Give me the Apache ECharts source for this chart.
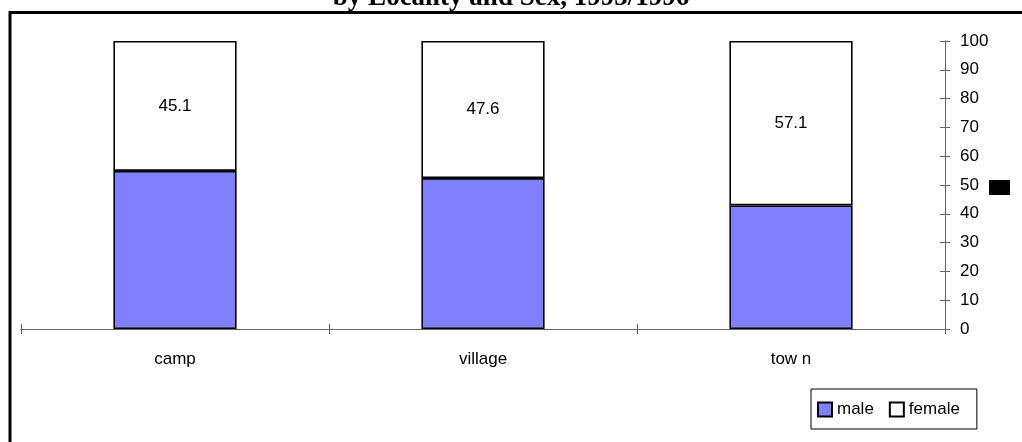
<!DOCTYPE html>
<html>
<head>
<meta charset="utf-8">
<script src="https://cdn.jsdelivr.net/npm/echarts@6/dist/echarts.min.js"></script>
<style>html,body{margin:0;padding:0;background:#fff;}#c{width:1022px;height:442px;}</style>
</head>
<body>
<div id="c"></div>
<script>
const titleText = 'by Locality and Sex, 1995/1996';
const categories = ['camp', 'village', 'tow n'];
const maleValues = [54.9, 52.4, 42.9];
const femaleValues = [45.1, 47.6, 57.1];
const seriesNames = ['male', 'female'];

const chart = echarts.init(document.getElementById('c'), null, {renderer: 'canvas'});
const axisColor = '#666666';
const font = 'Liberation Sans, Arial, sans-serif';
const catAxis = (inside, show) => ({
  type: 'category', data: categories, position: 'bottom', boundaryGap: true,
  axisLine: {show: true, lineStyle: {color: axisColor, width: 1}},
  axisTick: {show: true, inside: inside, length: 5, alignWithLabel: false, lineStyle: {color: axisColor}},
  axisLabel: {show: show, color: '#000', fontFamily: font, fontSize: 17, margin: 22},
  splitLine: {show: false}
});
const valAxis = (inside, show) => ({
  type: 'value', position: 'right', min: 0, max: 100, interval: 10,
  axisLine: {show: true, lineStyle: {color: axisColor, width: 1}},
  axisTick: {show: true, inside: inside, length: 5, lineStyle: {color: axisColor}},
  axisLabel: {show: show, color: '#000', fontFamily: font, fontSize: 17, margin: 15},
  splitLine: {show: false}
});
chart.setOption({
  animation: false,
  backgroundColor: '#fff',
  title: {
    text: titleText, left: 'center', top: -20,
    textStyle: {fontFamily: 'Liberation Serif, Times New Roman, serif', fontWeight: 'bold', fontSize: 27, color: '#000'}
  },
  graphic: [
    {type: 'rect', shape: {x: 10, y: 12.5, width: 1100, height: 500}, style: {fill: 'none', stroke: '#000', lineWidth: 3}, z: -1},
    {type: 'rect', shape: {x: 989, y: 180, width: 21, height: 15}, style: {fill: '#000'}}
  ],
  legend: {
    data: seriesNames, left: 811, top: 389, orient: 'horizontal',
    icon: 'rect', itemWidth: 14, itemHeight: 14, itemGap: 15,
    borderColor: '#000', borderWidth: 1, padding: [12, 17, 11, 6],
    textStyle: {fontFamily: font, fontSize: 17, color: '#000'}
  },
  grid: {left: 21, right: 77, top: 41, bottom: 113, containLabel: false},
  xAxis: [catAxis(false, true), catAxis(true, false)],
  yAxis: [valAxis(false, true), valAxis(true, false)],
  series: [
    {
      name: seriesNames[0], type: 'bar', stack: 'total', data: maleValues, barWidth: '40%',
      itemStyle: {color: '#8080FF', borderColor: '#000', borderWidth: 1.6},
      label: {show: false}
    },
    {
      name: seriesNames[1], type: 'bar', stack: 'total', data: femaleValues, barWidth: '40%',
      itemStyle: {color: '#FFFFFF', borderColor: '#000', borderWidth: 1.6},
      label: {show: true, position: 'inside', color: '#000', fontFamily: font, fontSize: 17}
    }
  ]
});
</script>
</body>
</html>
